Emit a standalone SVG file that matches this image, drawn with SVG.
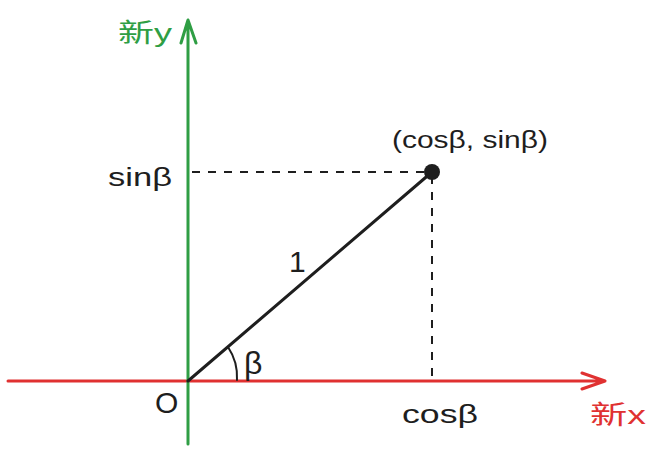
<svg xmlns="http://www.w3.org/2000/svg" width="656" height="453" viewBox="0 0 656 453">
<style>
.t{font-family:"Liberation Sans","Noto Sans CJK SC",sans-serif;font-size:26px;fill:#1e1e1e}
.ax{fill:none;stroke-width:3;stroke-linecap:round;stroke-linejoin:round}
.dash{fill:none;stroke:#1e1e1e;stroke-width:2;stroke-dasharray:8 8}
</style>
<rect width="656" height="453" fill="#fff"/>
<g id="connectors">
<path class="ax" stroke="#e03131" d="M8 381 L605 381 M582 373 L605 381 L582 389"/>
<path class="ax" stroke="#2f9e44" d="M188 444 L188 20 M181 43 L188 20 L196 43"/>
<path class="dash" d="M192 172 L428 172"/>
<path class="dash" d="M432 176 L432 378"/>
<path fill="none" stroke="#1e1e1e" stroke-width="3" stroke-linecap="round" d="M188 381 L432 172"/>
<path fill="none" stroke="#1e1e1e" stroke-width="2" stroke-linecap="round" d="M228 347 Q238 362 237 380"/>
</g>
<g id="point"><circle cx="432" cy="172" r="8" fill="#1e1e1e"/></g>
<g id="label-newy"><text class="t" x="118" y="42" style="fill:#2f9e44" textLength="54" lengthAdjust="spacingAndGlyphs">新y</text></g>
<g id="label-newx"><text class="t" x="590" y="424" style="fill:#e03131" textLength="56" lengthAdjust="spacingAndGlyphs">新x</text></g>
<g id="label-point"><text class="t" x="392" y="148" textLength="156" lengthAdjust="spacingAndGlyphs" style="font-size:23px">(cosβ, sinβ)</text></g>
<g id="label-sin"><text class="t" x="108" y="186" textLength="64" lengthAdjust="spacingAndGlyphs">sinβ</text></g>
<g id="label-cos"><text class="t" x="402" y="423" textLength="76" lengthAdjust="spacingAndGlyphs">cosβ</text></g>
<g id="label-one"><text class="t" x="289" y="272" style="font-size:30px">1</text></g>
<g id="label-beta"><text class="t" x="244" y="374" style="font-size:32px">β</text></g>
<g id="label-o"><text class="t" x="155" y="413" style="font-size:30px">O</text></g>
</svg>
